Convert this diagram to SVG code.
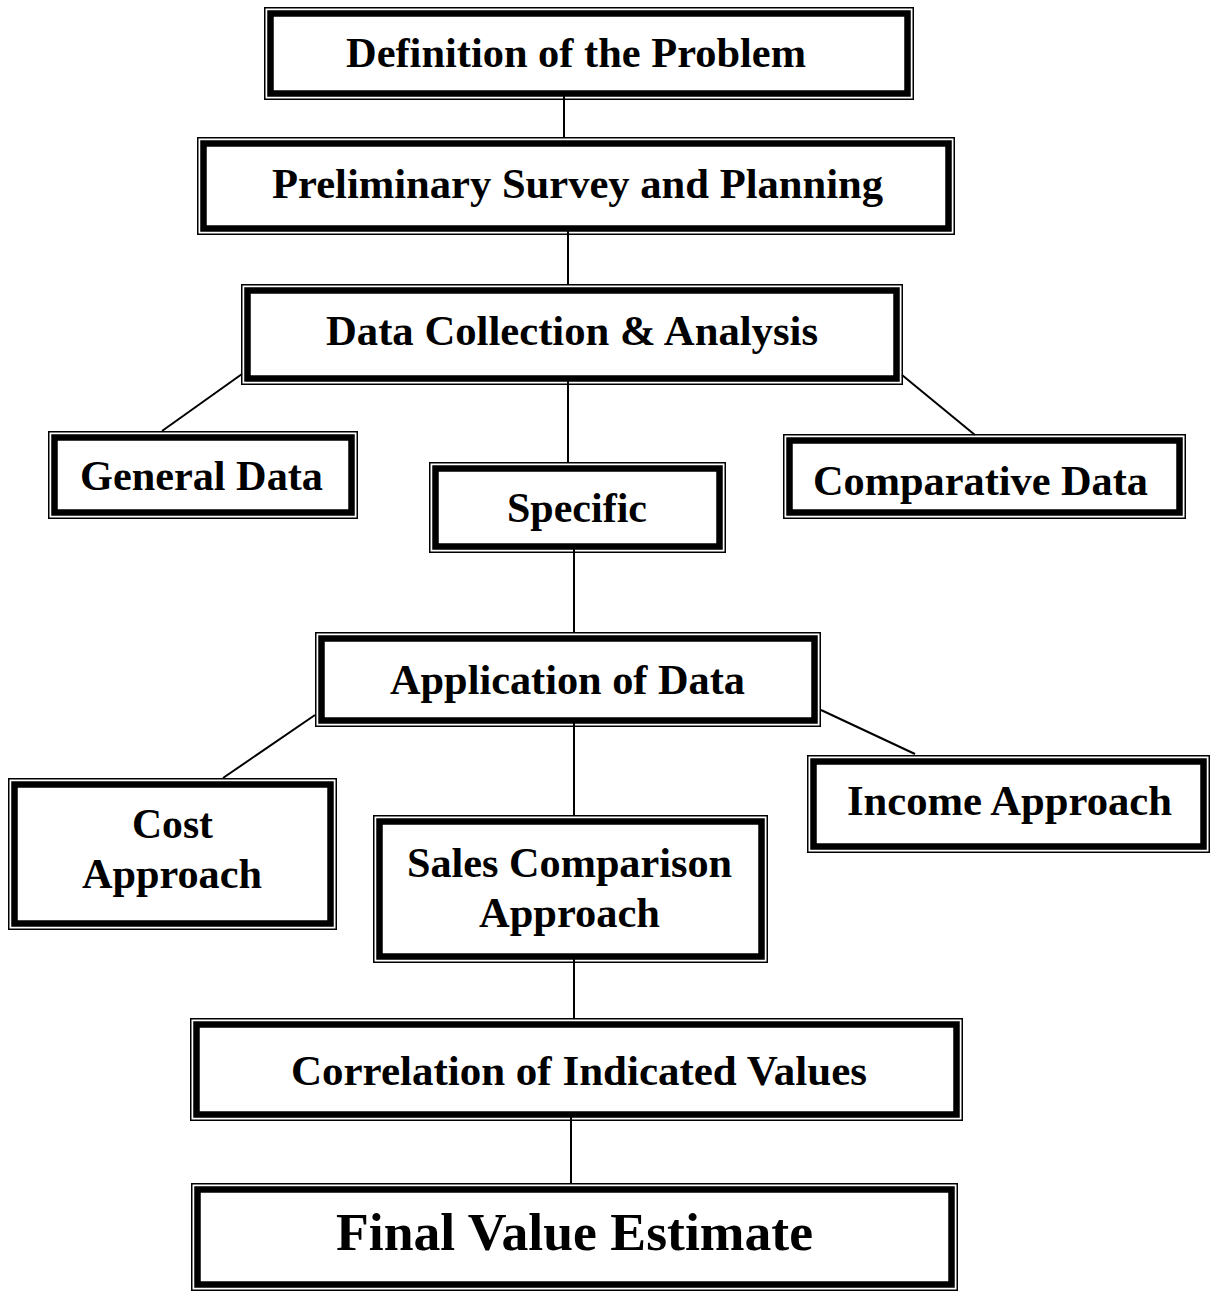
<svg xmlns="http://www.w3.org/2000/svg" width="1211" height="1292" viewBox="0 0 1211 1292">
<style>
.o{fill:none;stroke:#000;stroke-width:1.5}
.i{fill:none;stroke:#000;stroke-width:6.5}
.t{font-family:"Liberation Serif","Times New Roman",serif;font-weight:bold;font-size:42px;fill:#000;text-anchor:middle}
.c line{stroke:#000;stroke-width:2}
</style>
<rect width="1211" height="1292" fill="#fff"/>
<g class="c" id="connectors">
<line x1="564" y1="92" x2="564" y2="138"/>
<line x1="568" y1="228" x2="568" y2="285"/>
<line x1="568" y1="378" x2="568" y2="463"/>
<line x1="242" y1="374" x2="162" y2="431"/>
<line x1="902" y1="375" x2="975" y2="435"/>
<line x1="574" y1="546" x2="574" y2="633"/>
<line x1="315" y1="715" x2="223" y2="778"/>
<line x1="821" y1="710" x2="915" y2="754"/>
<line x1="574" y1="720" x2="574" y2="816"/>
<line x1="574" y1="956" x2="574" y2="1019"/>
<line x1="571" y1="1114" x2="571" y2="1184"/>
</g>
<g id="n1"><rect class="o" x="264.75" y="7.75" width="648.5" height="91.5"/><rect class="i" x="270.5" y="13.5" width="637" height="80"/><text class="t" x="576" y="67" textLength="460" lengthAdjust="spacingAndGlyphs">Definition of the Problem</text></g>
<g id="n2"><rect class="o" x="197.75" y="137.75" width="756.5" height="96.5"/><rect class="i" x="203.5" y="143.5" width="745" height="85"/><text class="t" x="577.5" y="198" textLength="611" lengthAdjust="spacingAndGlyphs">Preliminary Survey and Planning</text></g>
<g id="n3"><rect class="o" x="241.75" y="284.75" width="660.5" height="99.5"/><rect class="i" x="247.5" y="290.5" width="649" height="88"/><text class="t" x="572" y="345" textLength="492" lengthAdjust="spacingAndGlyphs">Data Collection &amp; Analysis</text></g>
<g id="n4"><rect class="o" x="48.75" y="431.75" width="308.5" height="86.5"/><rect class="i" x="54.5" y="437.5" width="297" height="75"/><text class="t" x="201.5" y="490" textLength="243" lengthAdjust="spacingAndGlyphs">General Data</text></g>
<g id="n5"><rect class="o" x="429.75" y="462.75" width="295.5" height="89.5"/><rect class="i" x="435.5" y="468.5" width="284" height="78"/><text class="t" x="577" y="522" textLength="140" lengthAdjust="spacingAndGlyphs">Specific</text></g>
<g id="n6"><rect class="o" x="783.75" y="434.75" width="401.5" height="83.5"/><rect class="i" x="789.5" y="440.5" width="390" height="72"/><text class="t" x="980.5" y="495" textLength="335" lengthAdjust="spacingAndGlyphs">Comparative Data</text></g>
<g id="n7"><rect class="o" x="315.75" y="632.75" width="504.5" height="93.5"/><rect class="i" x="321.5" y="638.5" width="493" height="82"/><text class="t" x="567.5" y="694" textLength="355" lengthAdjust="spacingAndGlyphs">Application of Data</text></g>
<g id="n8"><rect class="o" x="8.75" y="778.75" width="327.5" height="150.5"/><rect class="i" x="14.5" y="784.5" width="316" height="139"/><text class="t" x="172.5" y="838" textLength="81" lengthAdjust="spacingAndGlyphs">Cost</text><text class="t" x="172" y="888" textLength="180" lengthAdjust="spacingAndGlyphs">Approach</text></g>
<g id="n9"><rect class="o" x="807.75" y="755.75" width="401.5" height="96.5"/><rect class="i" x="813.5" y="761.5" width="390" height="85"/><text class="t" x="1009.5" y="815" textLength="325" lengthAdjust="spacingAndGlyphs">Income Approach</text></g>
<g id="n10"><rect class="o" x="373.75" y="815.75" width="393.5" height="146.5"/><rect class="i" x="379.5" y="821.5" width="382" height="135"/><text class="t" x="569.5" y="877" textLength="325" lengthAdjust="spacingAndGlyphs">Sales Comparison</text><text class="t" x="569.5" y="927" textLength="181" lengthAdjust="spacingAndGlyphs">Approach</text></g>
<g id="n11"><rect class="o" x="190.75" y="1018.75" width="771.5" height="101.5"/><rect class="i" x="196.5" y="1024.5" width="760" height="90"/><text class="t" x="579" y="1085" textLength="576" lengthAdjust="spacingAndGlyphs">Correlation of Indicated Values</text></g>
<g id="n12"><rect class="o" x="191.75" y="1183.75" width="765.5" height="106.5"/><rect class="i" x="197.5" y="1189.5" width="754" height="95"/><text class="t" x="574.5" y="1250" style="font-size:53px" textLength="477" lengthAdjust="spacingAndGlyphs">Final Value Estimate</text></g>
</svg>
